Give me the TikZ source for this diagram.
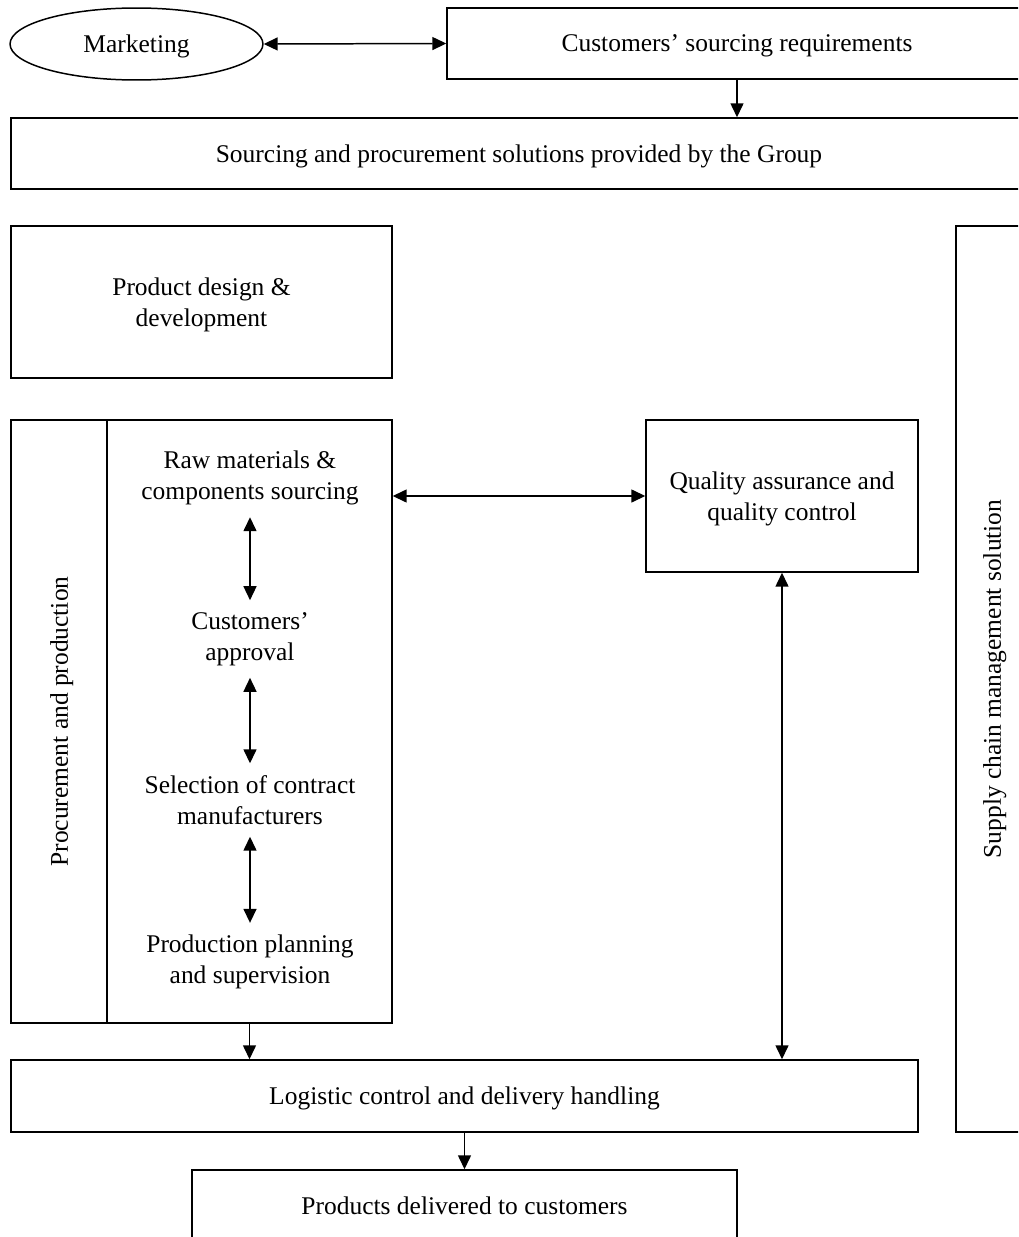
\documentclass[tikz,border=0pt]{standalone}
\usepackage{fontspec}
\setmainfont{Liberation Serif}
\usepackage{tikz}
\usetikzlibrary{positioning,shapes.geometric,arrows.meta}

\begin{document}
\begin{tikzpicture}[x=0.02cm,y=-0.02cm,
    font=\fontsize{14.5}{17.6}\selectfont,
    line width=0.85pt,
    box/.style={rectangle, draw, inner sep=0pt, text depth=0pt, text centered, align=center},
    oval/.style={ellipse, draw, inner sep=0pt, text depth=0pt, minimum width=5.06cm, minimum height=1.44cm},
    stepnode/.style={rectangle, draw=none, inner sep=6.5pt, text centered, align=center},
    arr/.style={-{Triangle[length=0.28cm,width=0.26cm]}},
    darr/.style={{Triangle[length=0.28cm,width=0.26cm]}-{Triangle[length=0.28cm,width=0.26cm]}}
]
\path[use as bounding box, clip] (0,0) rectangle (1018,1237);

% top row
\node (Mkt) [oval] at (136.5,44) {Marketing};
\node (Req) [box, minimum width=11.6cm, minimum height=1.42cm] at (737,43.5) {Customers' sourcing requirements};
\node (Sol) [box, minimum width=20.32cm, minimum height=1.42cm] at (519,153.5) {Sourcing and procurement solutions provided by the Group};

% left column
\node (Design) [box, minimum width=7.62cm, minimum height=3.04cm] at (201.5,302) {Product design \&\\development};
\node (ProcCol) [box, rotate=90, minimum width=12.06cm, minimum height=1.92cm] at (59,721.5) {Procurement and production};
\node (Steps) [box, minimum width=5.7cm, minimum height=12.06cm] at (249.5,721.5) {};
\node (Raw) [stepnode] at (250,478) {Raw materials \&\\components sourcing};
\node (Appr) [stepnode] at (250,639) {Customers'\\approval};
\node (Sel) [stepnode] at (250,800) {Selection of contract\\manufacturers};
\node (Plan) [stepnode] at (250,962) {Production planning\\and supervision};

% right side
\node (QA) [box, minimum width=5.44cm, minimum height=3.04cm] at (782,496) {Quality assurance and\\quality control};
\node (SCM) [box, rotate=90, minimum width=18.12cm, minimum height=1.44cm] at (992,679) {Supply chain management solution};

% bottom
\node (Log) [box, minimum width=18.14cm, minimum height=1.44cm] at (464.5,1096) {Logistic control and delivery handling};
\node (Del) [box, minimum width=10.9cm, minimum height=1.44cm] at (464.5,1206) {Products delivered to customers};

% connectors
\draw [darr] (Mkt.east) -- (Req.west);
\draw [arr] (Req.south) -- (Req.south |- Sol.north);
\draw [darr] (Raw) -- (Appr);
\draw [darr] (Appr) -- (Sel);
\draw [darr] (Sel) -- (Plan);
\draw [darr] (QA.west -| Steps.east) -- (QA.west);
\draw [darr] (QA.south) -- (QA.south |- Log.north);
\draw [arr] (Steps.south) -- (Steps.south |- Log.north);
\draw [arr] (Log.south) -- (Del.north);
\end{tikzpicture}
\end{document}
